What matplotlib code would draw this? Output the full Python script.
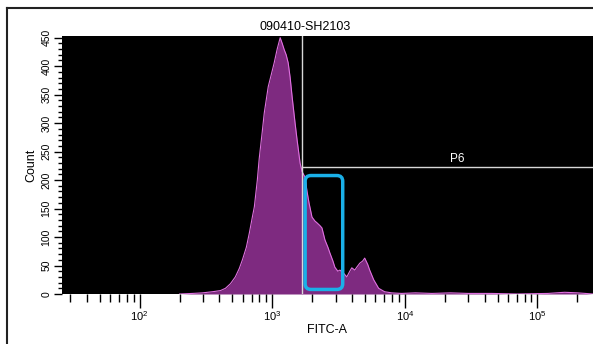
import matplotlib.pyplot as plt
from matplotlib.lines import Line2D
from matplotlib.patches import FancyBboxPatch
from matplotlib.ticker import MultipleLocator, LogLocator, NullFormatter

plt.rcParams['font.family'] = ['Liberation Sans', 'DejaVu Sans']

# FITC-A intensity (bin centres) and event counts
fitc = [200, 251, 298, 355, 407, 444, 484, 527, 565, 596, 638, 672, 708, 733,
        772, 798, 841, 871, 933, 983, 1035, 1090, 1148, 1189, 1231, 1274, 1319,
        1365, 1413, 1487, 1539, 1622, 1679, 1768, 1830, 1894, 1995, 2101, 2175,
        2291, 2371, 2497, 2630, 2722, 2867, 2967, 3125, 3235, 3407, 3650, 3846,
        3981, 4190, 4337, 4571, 4813, 4981, 5246, 5430, 5821, 6345, 7035, 7943,
        9441, 12000, 16000, 22000, 30000, 45000, 70000, 120000, 160000, 200000, 262144]
counts = [0, 1, 2, 4, 6, 10, 18, 30, 45, 60, 82, 107, 135, 153,
          200, 238, 285, 318, 364, 385, 406, 430, 450, 440, 429, 420, 406,
          380, 346, 300, 271, 230, 215, 205, 180, 160, 135, 128, 125,
          120, 116, 95, 82, 72, 58, 47, 40, 42, 38, 30, 40,
          46, 42, 47, 54, 58, 63, 52, 42, 25, 10, 4, 2,
          1, 2, 1, 2, 1, 1, 0, 1, 3, 2, 0]

sample_name = '090410-SH2103'
gate_x = 1680          # P6 lower FITC-A bound
gate_y = 223           # P6 count threshold
gate_label = 'P6'
highlight = [1770, 3400, 8, 208]   # x0, x1, y0, y1 of the marked region

fig = plt.figure(figsize=(5.93, 3.44), dpi=100)
fig.patch.set_facecolor('white')
ax = fig.add_axes([62 / 593, 1 - 294 / 344, 531 / 593, 258 / 344])
ax.set_facecolor('black')

ax.fill_between(fitc, counts, 0, color='#7e2a80', linewidth=0)
ax.plot(fitc, counts, color='#e070e0', linewidth=0.8)

ax.set_xscale('log')
ax.set_xlim(26, 262144)
ax.set_ylim(0, 453)

# gate lines
ax.axvline(gate_x, color='#d8d8d8', linewidth=1)
ax.plot([gate_x, 262144], [gate_y, gate_y], color='#d8d8d8', linewidth=1)
ax.text(25000, gate_y + 3, gate_label, color='white', fontsize=8.5,
        ha='center', va='bottom')

# rounded highlight box, built in axes coordinates so corners stay round
to_axes = ax.transData + ax.transAxes.inverted()
(bx0, by0) = to_axes.transform((highlight[0], highlight[2]))
(bx1, by1) = to_axes.transform((highlight[1], highlight[3]))
box = FancyBboxPatch((bx0, by0), bx1 - bx0, by1 - by0,
                     boxstyle='round,pad=0,rounding_size=0.011',
                     mutation_aspect=531 / 258,
                     transform=ax.transAxes, fill=False,
                     edgecolor='#1ab0e8', linewidth=2.5, zorder=5)
ax.add_patch(box)

# ticks
ax.xaxis.set_major_locator(LogLocator(base=10, numticks=10))
ax.xaxis.set_minor_locator(LogLocator(base=10, subs=range(2, 10), numticks=20))
ax.xaxis.set_minor_formatter(NullFormatter())
ax.yaxis.set_major_locator(MultipleLocator(50))
ax.yaxis.set_minor_locator(MultipleLocator(10))
ax.tick_params(axis='x', which='major', length=10, width=1, labelsize=8, pad=1)
ax.tick_params(axis='x', which='minor', length=6, width=1)
ax.tick_params(axis='y', which='major', length=6, width=1, labelsize=7.5, pad=1.5)
ax.tick_params(axis='y', which='minor', length=3, width=1)
for lbl in ax.get_yticklabels():
    lbl.set_rotation(90)
    lbl.set_va('center')
for s in ax.spines.values():
    s.set_visible(False)

ax.set_xlabel('FITC-A', fontsize=9, labelpad=1)
ax.set_ylabel('Count', fontsize=9, labelpad=3)
fig.text(305 / 593, 1 - 27 / 344, sample_name, fontsize=9,
         ha='center', va='center')

# window frame
fig.add_artist(Line2D([7 / 593, 7 / 593], [0, 1 - 8 / 344], color='#222222', linewidth=1.5))
fig.add_artist(Line2D([7 / 593, 1], [1 - 8 / 344, 1 - 8 / 344], color='#222222', linewidth=1.5))

fig.savefig('out.png', dpi=100)
